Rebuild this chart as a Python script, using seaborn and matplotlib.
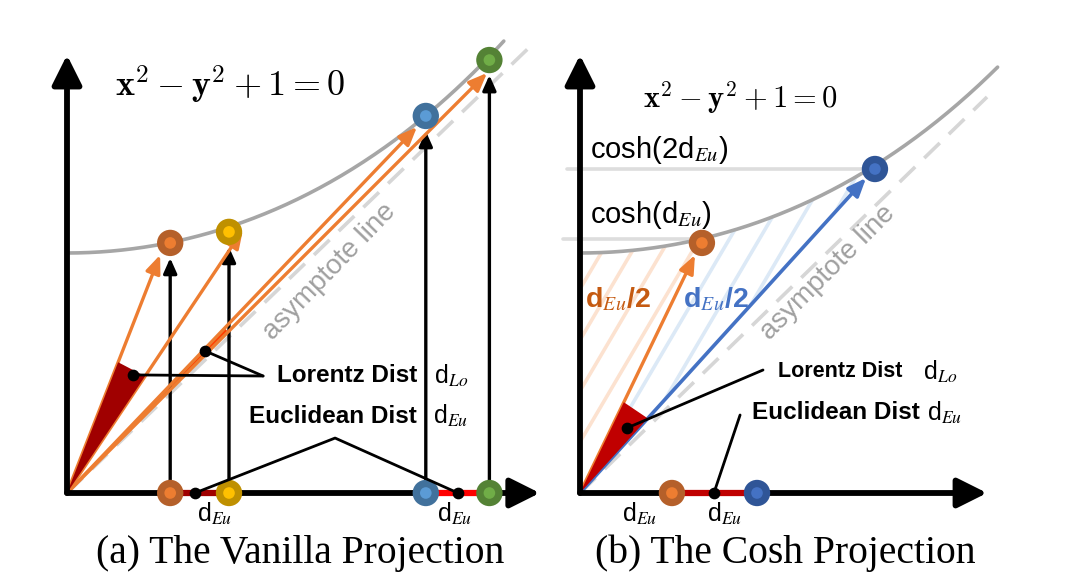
import numpy as np
import matplotlib
matplotlib.use('Agg')
import matplotlib.pyplot as plt
from matplotlib.patches import Polygon
import seaborn as sns

sns.set_theme(style='white')
plt.rcParams['font.family'] = ['Liberation Sans', 'DejaVu Sans']
plt.rcParams['mathtext.fontset'] = 'stix'
plt.rcParams['text.color'] = 'black'

# units: 1 = distance from origin to the vertex of the hyperbola
# panel (a) vanilla projection
a_names = ['brown', 'yellow', 'blue', 'green']
a_x = [0.43, 0.675, 1.495, 1.76]          # points on the x axis / on the curve
a_y = [1.042, 1.088, 1.571, 1.804]        # height of the points on the curve
a_tip_x = [0.388, 0.733, 1.458, 1.75]     # where the orange arrows stop
a_tip_y = [0.992, 1.096, 1.525, 1.75]
a_shape = 1.46
a_curve_end = 1.82

# panel (b) cosh projection
b_names = ['brown', 'navy']
b_axis_x = [0.383, 0.7375]
b_x = [0.508, 1.229]
b_y = [1.042, 1.35]
b_tip_x = [0.479, 1.192]
b_tip_y = [0.992, 1.3125]
b_shape = 1.48
b_curve_end = 1.74

outer = {'brown': '#B5602A', 'yellow': '#BF9000', 'blue': '#41719C',
         'green': '#548235', 'navy': '#2F5597'}
inner = {'brown': '#ED7D31', 'yellow': '#FFC000', 'blue': '#5B9BD5',
         'green': '#70AD47', 'navy': '#4472C4'}
ORANGE = '#ED7D31'
BLUE = '#4472C4'

fig = plt.figure(figsize=(10.8, 5.82), dpi=100)
ax_a = fig.add_axes([0, 0, 0.5, 1])
ax_b = fig.add_axes([0.5, 0, 0.5, 1])
ax_a.set_xlim(-67 / 240, 473 / 240)
ax_b.set_xlim(-40 / 240, 500 / 240)
for ax in (ax_a, ax_b):
    ax.set_ylim(-89 / 240, 493 / 240)
    ax.axis('off')


def arrow(ax, start, end, color, lw, hl, hw, z=3):
    ax.annotate('', xy=end, xytext=start,
                arrowprops=dict(arrowstyle=f'-|>,head_length={hl},head_width={hw}',
                                color=color, lw=lw, shrinkA=0, shrinkB=0,
                                mutation_scale=10),
                zorder=z)


def markers(ax, xs, ys, names):
    sns.scatterplot(x=xs, y=ys, hue=names, palette=outer, s=360, linewidth=0,
                    legend=False, ax=ax, zorder=7)
    sns.scatterplot(x=xs, y=ys, hue=names, palette=inner, s=70, linewidth=0,
                    legend=False, ax=ax, zorder=8)


def wedge(ax, p1, p2, r, color, z=4):
    d1 = np.array(p1) / np.hypot(*p1) * r
    d2 = np.array(p2) / np.hypot(*p2) * r
    ax.add_patch(Polygon([(0, 0), d1, d2], closed=True, fc=color, ec='none', zorder=z))


def frame(ax, y_top, x_tip, shape, curve_end, asym_end):
    xs = np.linspace(0, curve_end, 200)
    sns.lineplot(x=xs, y=np.cosh(xs / shape), color='#A6A6A6', lw=2.6,
                 estimator=None, ax=ax, zorder=2)
    ax.plot([0, asym_end[0]], [0, asym_end[1]], color='#D6D6D6', lw=2.6,
            dashes=(6, 3.5), zorder=2)
    arrow(ax, (0, 0), (0, y_top), 'black', 4.2, 1.8, 0.9, z=5)
    arrow(ax, (0, 0), (x_tip, 0), 'black', 4.2, 1.8, 0.9, z=5)


def d_label(ax, x, y, sub, size=18, **kw):
    ax.text(x, y, 'd$_{' + sub + '}$', fontsize=size, ha='center', va='center',
            zorder=9, **kw)


# ---------------- panel (a) ----------------
ax = ax_a
frame(ax, 1.825, 1.97, a_shape, a_curve_end, (1.94, 1.87))
for x, y in zip(a_x, a_y):
    arrow(ax, (x, 0), (x, y - 0.063), 'black', 2.4, 0.9, 0.4)
for tx, ty in zip(a_tip_x, a_tip_y):
    arrow(ax, (0, 0), (tx, ty), ORANGE, 2.4, 1.1, 0.45)
# Lorentz angles
wedge(ax, (a_tip_x[0], a_tip_y[0]), (a_tip_x[1], a_tip_y[1]), 0.585, '#A00000')
wedge(ax, (a_tip_x[2], a_tip_y[2]), (a_tip_x[3], a_tip_y[3]), 0.95, '#FF3D00', z=2.5)
# Euclidean segments
ax.plot([a_x[0], a_x[1]], [0, 0], color='#A00000', lw=4.5, solid_capstyle='butt', zorder=6)
ax.plot([a_x[2], a_x[3]], [0, 0], color='#FF0000', lw=4.5, solid_capstyle='butt', zorder=6)
markers(ax, a_x, a_y, a_names)
markers(ax, a_x, [0] * 4, a_names)
# pointers
ax.plot([0.275, 0.817], [0.492, 0.4875], color='black', lw=2, zorder=8)
ax.plot([0.575, 0.817], [0.592, 0.4875], color='black', lw=2, zorder=8)
ax.plot([0.533, 1.117, 1.629], [0.0, 0.229, 0.0], color='black', lw=2, zorder=8)
ax.scatter([0.275, 0.575, 0.533, 1.629], [0.492, 0.592, 0.0, 0.0], s=55,
           color='black', zorder=9)
ax.text(0.875, 0.49, 'Lorentz Dist', fontsize=17.5, fontweight='bold',
        ha='left', va='center', zorder=9)
ax.text(1.458, 0.32, 'Euclidean Dist', fontsize=17.5, fontweight='bold',
        ha='right', va='center', zorder=9)
d_label(ax, 1.6, 0.49, 'Lo', bbox=dict(fc='white', ec='none', pad=3))
d_label(ax, 1.6, 0.32, 'Eu', bbox=dict(fc='white', ec='none', pad=3))
d_label(ax, 0.617, -0.085, 'Eu')
d_label(ax, 1.617, -0.085, 'Eu')
ax.text(0.2, 1.70, r'$\mathbf{x}^2-\mathbf{y}^2+1=0$', fontsize=26,
        math_fontfamily='cm', ha='left', va='center')
ax.text(1.096, 0.92, 'asymptote line', fontsize=20, color='#A0A0A0',
        rotation=46, ha='center', va='center', zorder=3)
ax.text(0.971, -0.25, '(a) The Vanilla Projection', fontsize=28.5,
        family='Liberation Serif', ha='center', va='center')

# ---------------- panel (b) ----------------
ax = ax_b
frame(ax, 1.825, 1.696, b_shape, b_curve_end, (1.696, 1.65))
# hatching below the curve
xc = np.linspace(0, 0.5, 40)
orange_poly = Polygon([(0, 0)] + list(zip(xc, np.cosh(xc / b_shape))), closed=True,
                      fc='none', ec='none')
xc2 = np.linspace(0.5, 1.229, 60)
blue_poly = Polygon([(0, 0)] + list(zip(xc2, np.cosh(xc2 / b_shape))), closed=True,
                    fc='none', ec='none')
for poly, col in ((orange_poly, '#FCE2D0'), (blue_poly, '#DCE9F6')):
    ax.add_patch(poly)
    for off in np.arange(-1.0, 1.6, 0.125):
        ln, = ax.plot([off, off + 1.2], [0, 2.04], color=col, lw=2.6, zorder=1)
        ln.set_clip_path(poly)
# guide lines for cosh levels
ax.plot([-0.054, b_x[1]], [b_y[1], b_y[1]], color='#DDDDDD', lw=2.6, zorder=1.5)
ax.plot([-0.071, b_x[0]], [b_y[0] + 0.017, b_y[0] + 0.017], color='#DDDDDD', lw=2.6, zorder=1.5)
arrow(ax, (0, 0), (b_tip_x[0], b_tip_y[0]), ORANGE, 2.4, 1.1, 0.45)
arrow(ax, (0, 0), (b_tip_x[1], b_tip_y[1]), BLUE, 2.6, 1.1, 0.45)
wedge(ax, (b_tip_x[0], b_tip_y[0]), (b_tip_x[1], b_tip_y[1]), 0.42, '#C00000')
ax.plot(b_axis_x, [0, 0], color='#C00000', lw=4.5, solid_capstyle='butt', zorder=6)
markers(ax, b_x, b_y, b_names)
markers(ax, b_axis_x, [0, 0], b_names)
ax.plot([0.196, 0.7625], [0.271, 0.5125], color='black', lw=2, zorder=8)
ax.plot([0.667, 0.558], [0.325, 0.0], color='black', lw=2, zorder=8)
ax.scatter([0.196, 0.558], [0.271, 0.0], s=55, color='black', zorder=9)
ax.text(0.825, 0.505, 'Lorentz Dist', fontsize=15.5, fontweight='bold',
        ha='left', va='center', zorder=9)
ax.text(1.417, 0.335, 'Euclidean Dist', fontsize=17.5, fontweight='bold',
        ha='right', va='center', zorder=9)
d_label(ax, 1.5, 0.505, 'Lo')
d_label(ax, 1.52, 0.335, 'Eu')
d_label(ax, 0.25, -0.085, 'Eu')
d_label(ax, 0.604, -0.085, 'Eu')
ax.text(0.042, 1.43, 'cosh(2d$_{Eu}$)', fontsize=21, ha='left', va='center')
ax.text(0.042, 1.158, 'cosh(d$_{Eu}$)', fontsize=21, ha='left', va='center')
ax.text(0.021, 0.804, r'd$_{Eu}$/2', fontsize=20.5, fontweight='bold', color='#C55A11',
        ha='left', va='center', zorder=9)
ax.text(0.429, 0.804, r'd$_{Eu}$/2', fontsize=20.5, fontweight='bold', color=BLUE,
        ha='left', va='center', zorder=9)
ax.text(0.2625, 1.646, r'$\mathbf{x}^2-\mathbf{y}^2+1=0$', fontsize=22,
        math_fontfamily='cm', ha='left', va='center')
ax.text(1.033, 0.92, 'asymptote line', fontsize=20, color='#A0A0A0',
        rotation=45, ha='center', va='center', zorder=3)
ax.text(0.854, -0.25, '(b) The Cosh Projection', fontsize=28.5,
        family='Liberation Serif', ha='center', va='center')

fig.savefig('out.png', dpi=100)
